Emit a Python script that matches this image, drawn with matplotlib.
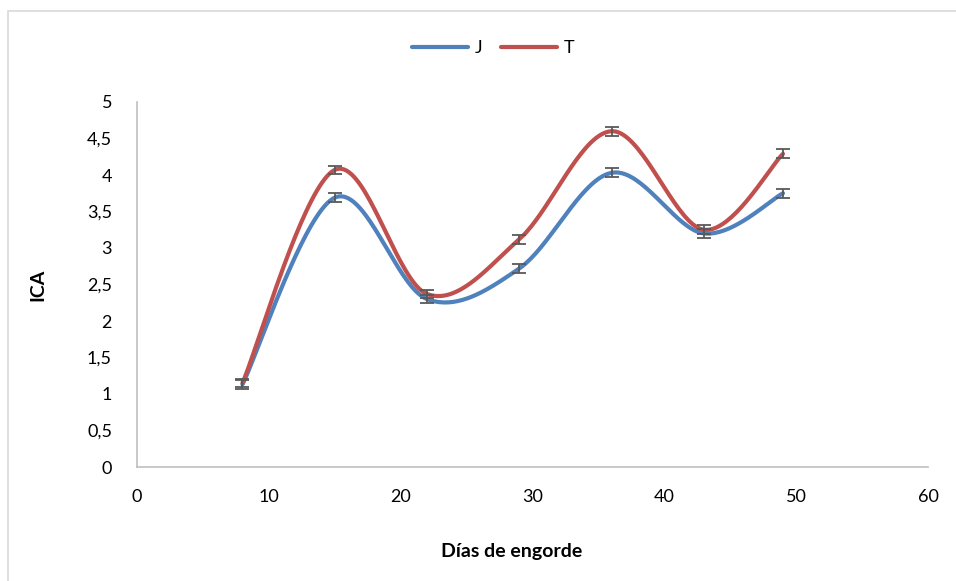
import numpy as np
import matplotlib
matplotlib.use("Agg")
import matplotlib.pyplot as plt
from matplotlib.ticker import FuncFormatter
from matplotlib.patches import Rectangle

dias = [8, 15, 22, 29, 36, 43, 49]
ica_j = [1.13, 3.69, 2.30, 2.72, 4.03, 3.20, 3.75]
ica_t = [1.15, 4.07, 2.37, 3.12, 4.60, 3.25, 4.29]
err_j = [0.06, 0.06, 0.06, 0.06, 0.06, 0.06, 0.06]
err_t = [0.06, 0.06, 0.06, 0.06, 0.06, 0.06, 0.06]

plt.rcParams["font.family"] = ["Lato", "DejaVu Sans"]


def excel_smooth(x, y, n=40):
    # Catmull-Rom style bezier, like Excel's "smoothed line"
    x = np.asarray(x, float); y = np.asarray(y, float)
    px = np.concatenate([[x[0]], x, [x[-1]]])
    py = np.concatenate([[y[0]], y, [y[-1]]])
    xs, ys = [], []
    t = np.linspace(0, 1, n)
    for i in range(1, len(x)):
        p0 = np.array([px[i], py[i]]); p3 = np.array([px[i + 1], py[i + 1]])
        c1 = p0 + (np.array([px[i + 1], py[i + 1]]) - np.array([px[i - 1], py[i - 1]])) / 6
        c2 = p3 - (np.array([px[i + 2], py[i + 2]]) - np.array([px[i], py[i]])) / 6
        b = ((1 - t)[:, None] ** 3 * p0 + 3 * ((1 - t) ** 2 * t)[:, None] * c1
             + 3 * ((1 - t) * t ** 2)[:, None] * c2 + (t ** 3)[:, None] * p3)
        xs.extend(b[:, 0]); ys.extend(b[:, 1])
    return np.array(xs), np.array(ys)


fig = plt.figure(figsize=(9.56, 5.81), dpi=100)
fig.patches.append(Rectangle((8 / 956, -0.1), 1.2, 1 - 11 / 581 + 0.1, transform=fig.transFigure,
                             fill=False, edgecolor="#d9d9d9", lw=1.2))
ax = fig.add_axes([137 / 956, 114 / 581, 791 / 956, 365 / 581])

for y, e, col, lab in [(ica_j, err_j, "#4F81BD", "J"), (ica_t, err_t, "#C0504D", "T")]:
    sx, sy = excel_smooth(dias, y)
    ax.plot(sx, sy, color=col, lw=3, label=lab, solid_capstyle="round", zorder=2)
    ax.errorbar(dias, y, yerr=e, fmt="none", ecolor="#595959", elinewidth=1.3,
                capsize=5, capthick=1.3, zorder=3)

ax.set_xlim(0, 60)
ax.set_ylim(0, 5)
ax.set_xticks(range(0, 61, 10))
ax.set_yticks(np.arange(0, 5.01, 0.5))
ax.yaxis.set_major_formatter(FuncFormatter(lambda v, p: f"{v:g}".replace(".", ",")))
ax.tick_params(length=0, labelsize=13, colors="black")
ax.tick_params(axis="y", pad=18)
ax.tick_params(axis="x", pad=16)
for s in ["top", "right"]:
    ax.spines[s].set_visible(False)
for s in ["left", "bottom"]:
    ax.spines[s].set_color("#bfbfbf")
    ax.spines[s].set_linewidth(1.2)

fig.text(38 / 956, 1 - 285 / 581, "ICA", fontsize=14, fontweight="bold",
         rotation=90, ha="center", va="center")
fig.text(512 / 956, 1 - 552 / 581, "Días de engorde", fontsize=14, fontweight="bold",
         ha="center", va="center")
ax.legend(loc="center", bbox_to_anchor=(493 / 956, 1 - 48 / 581), bbox_transform=fig.transFigure,
          ncol=2, frameon=False, fontsize=13, handlelength=3.1, handletextpad=0.4,
          columnspacing=1.0, borderpad=0)

fig.savefig("out.png", dpi=100)
